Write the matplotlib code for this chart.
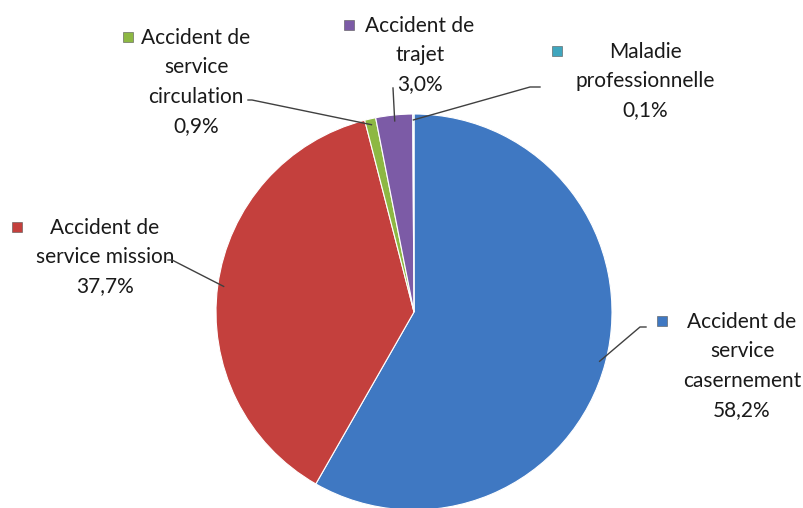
import numpy as np
import matplotlib
matplotlib.use("Agg")
from matplotlib import pyplot as plt

# data
categories = ["Accident de\nservice\ncasernement", "Accident de\nservice mission",
              "Accident de\nservice\ncirculation", "Accident de\ntrajet",
              "Maladie\nprofessionnelle"]
values = [58.2, 37.7, 0.9, 3.0, 0.1]
value_labels = ["58,2%", "37,7%", "0,9%", "3,0%", "0,1%"]
colors = ["#3F78C2", "#C4403D", "#8DB843", "#7C5BA6", "#3FA6BE"]

W, H = 804, 508
plt.rcParams["font.family"] = ["Lato", "DejaVu Sans"]

fig = plt.figure(figsize=(W / 100, H / 100), dpi=100)
ax = fig.add_axes([0, 0, 1, 1])

cx, cy, r = 414, H - 312, 198
wedges, _ = ax.pie(values, colors=colors, startangle=90, counterclock=False,
                   center=(cx, cy), radius=r, frame=True,
                   wedgeprops=dict(edgecolor="white", linewidth=0.8))
ax.set_xlim(0, W)
ax.set_ylim(0, H)
ax.set_aspect("equal")
ax.axis("off")

# label placement (image pixel coords: text center x, first line center y, marker x)
label_pos = [(742, 322, 662), (105, 228, 17), (196, 38, 128), (420, 26, 349), (645, 52, 557)]
# leader line: elbow point and end near text (image coords)
leaders = [((640, 327), (646, 327)),
           ((172, 260), (168, 260)),
           ((252, 100), (248, 100)),
           ((393, 88), (393, 88)),
           ((530, 87), (540, 87))]

for i, w in enumerate(wedges):
    tx, ty, mx = label_pos[i]
    ax.text(tx, H - ty + 10, categories[i] + "\n" + value_labels[i], ha="center", va="top",
            fontsize=15, color="#1a1a1a", linespacing=1.58)
    # legend key square
    ax.scatter([mx], [H - ty + 1], marker="s", s=60, color=colors[i],
               edgecolors="#555555", linewidths=0.4, zorder=5)
    ang = np.deg2rad((w.theta1 + w.theta2) / 2)
    rr = r * 0.97
    ax0 = cx + rr * np.cos(ang)
    ay0 = cy + rr * np.sin(ang)
    (ex, ey), (fx, fy) = leaders[i]
    ax.plot([ax0, ex, fx], [ay0, H - ey, H - fy], color="#404040", lw=1, zorder=4)

plt.savefig("out.png", dpi=100)
